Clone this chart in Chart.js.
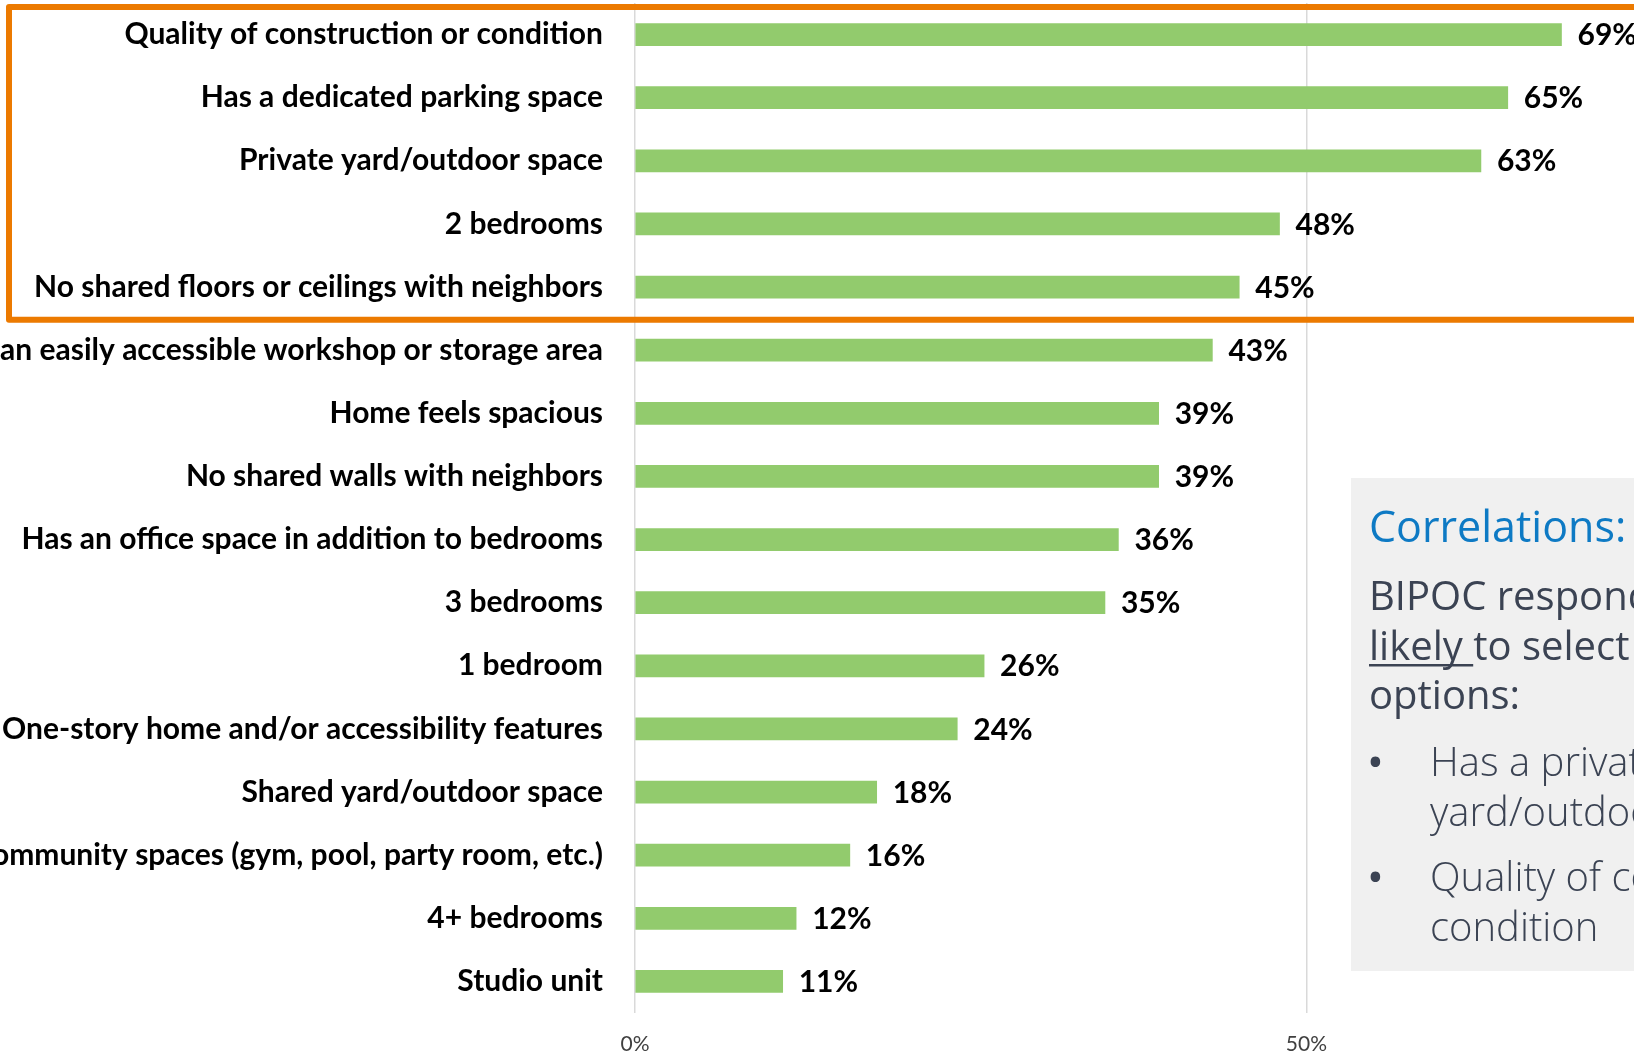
<!DOCTYPE html>
<html>
<head>
  <title>Home features</title>
  <script src="https://cdn.jsdelivr.net/npm/chart.js"></script>
  <style>
    html, body { margin: 0; padding: 0; background: #fff; overflow: hidden; }
  </style>
</head>
<body>
  <canvas id="featuresChart" width="1634" height="1052"></canvas>

  <script>
    // Feature labels, top to bottom
    const categories = [
      'Quality of construction or condition',
      'Has a dedicated parking space',
      'Private yard/outdoor space',
      '2 bedrooms',
      'No shared floors or ceilings with neighbors',
      'Has an easily accessible workshop or storage area',
      'Home feels spacious',
      'No shared walls with neighbors',
      'Has an office space in addition to bedrooms',
      '3 bedrooms',
      '1 bedroom',
      'One-story home and/or accessibility features',
      'Shared yard/outdoor space',
      'Community spaces (gym, pool, party room, etc.)',
      '4+ bedrooms',
      'Studio unit'
    ];

    // Share of respondents choosing each feature (%)
    const values = [69, 65, 63, 48, 45, 43, 39, 39, 36, 35, 26, 24, 18, 16, 12, 11];

    // Axis ticks shown (%)
    const xTicks = [0, 50];

    // Number of top rows inside the orange frame
    const highlightCount = 5;

    // Side note text
    const noteTitle = 'Correlations:';
    const noteLines = ['BIPOC respondents more', 'likely to select these', 'options:'];
    const noteUnderlined = 'likely ';
    const noteBullets = [
      ['Has a private', 'yard/outdoor space'],
      ['Quality of construction or', 'condition']
    ];

    const labelFont = 'Lato';

    // Percent labels right of each bar
    const valueLabels = {
      id: 'valueLabels',
      afterDatasetsDraw(chart) {
        const ctx = chart.ctx;
        const meta = chart.getDatasetMeta(0);
        ctx.save();
        ctx.font = 'bold 30px ' + labelFont;
        ctx.fillStyle = '#000';
        ctx.textAlign = 'left';
        ctx.textBaseline = 'middle';
        meta.data.forEach((bar, i) => {
          ctx.fillText(values[i] + '%', bar.x + 16, bar.y + 1);
        });
        ctx.restore();
      }
    };

    // Orange frame round the top rows and the grey note box
    const extras = {
      id: 'extras',
      afterDraw(chart) {
        const ctx = chart.ctx;
        const y = chart.scales.y;
        const step = y.getPixelForValue(1) - y.getPixelForValue(0);
        const top = y.getPixelForValue(0) - step / 2 + 4;
        const bottom = (y.getPixelForValue(highlightCount - 1) + y.getPixelForValue(highlightCount)) / 2 + 1;

        ctx.save();
        ctx.strokeStyle = '#EC7A00';
        ctx.lineWidth = 6;
        ctx.lineJoin = 'round';
        ctx.strokeRect(9, top, chart.width + 20, bottom - top);

        // note box
        ctx.fillStyle = '#F0F0F0';
        ctx.fillRect(1351, 478, 400, 493);

        ctx.textAlign = 'left';
        ctx.textBaseline = 'alphabetic';
        ctx.fillStyle = '#0E7AC4';
        ctx.font = '43px "Open Sans"';
        ctx.fillText(noteTitle, 1369, 542);

        ctx.fillStyle = '#3B4353';
        ctx.font = '40px "Open Sans"';
        noteLines.forEach((line, i) => {
          ctx.fillText(line, 1369, 610 + i * 49.5);
        });
        const uw = ctx.measureText(noteUnderlined).width;
        ctx.fillRect(1369, 664, uw, 2.5);

        let base = 776;
        noteBullets.forEach(item => {
          ctx.font = 'bold 34px "Open Sans"';
          ctx.fillText('\u2022', 1369, base - 2);
          ctx.font = '300 40px "Open Sans"';
          item.forEach((line, j) => {
            ctx.fillText(line, 1430, base + j * 50);
          });
          base += 115;
        });
        ctx.restore();
      }
    };

    new Chart(document.getElementById('featuresChart'), {
      type: 'bar',
      data: {
        labels: categories,
        datasets: [{
          data: values,
          backgroundColor: '#92CB6D',
          barThickness: 22
        }]
      },
      options: {
        indexAxis: 'y',
        responsive: false,
        animation: false,
        devicePixelRatio: 1,
        layout: { padding: { top: 3, left: 0, right: 0, bottom: 0 } },
        plugins: {
          legend: { display: false },
          tooltip: { enabled: false }
        },
        scales: {
          x: {
            min: 0,
            max: 74.4,
            afterBuildTicks: scale => {
              scale.ticks = xTicks.map(v => ({ value: v }));
            },
            afterFit: scale => { scale.height = 39; },
            grid: { color: '#D9D9D9', lineWidth: 1.5, drawTicks: false },
            border: { display: false },
            ticks: {
              padding: 19,
              color: '#404040',
              font: { family: labelFont, size: 21 },
              callback: v => v + '%'
            }
          },
          y: {
            afterFit: scale => {
              scale.width = 635;
              scale.paddingTop = 0;
              scale.paddingBottom = 0;
            },
            grid: { display: false, drawTicks: false },
            border: { display: false },
            ticks: {
              padding: 32,
              color: '#000',
              autoSkip: false,
              font: { family: labelFont, size: 30, weight: 'bold' }
            }
          }
        }
      },
      plugins: [valueLabels, extras]
    });
  </script>
</body>
</html>
